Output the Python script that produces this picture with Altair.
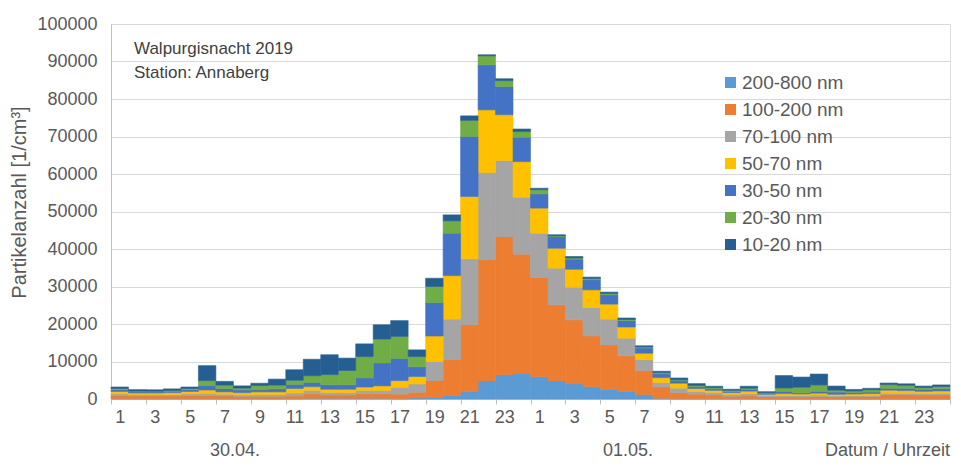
import altair as alt
import pandas as pd

dates = ["30.04.", "01.05."]
hours = list(range(1, 25))
classes = ["200-800 nm", "100-200 nm", "70-100 nm", "50-70 nm", "30-50 nm", "20-30 nm", "10-20 nm"]
colors = ["#5B9BD5", "#ED7D31", "#A5A5A5", "#FFC000", "#4472C4", "#70AD47", "#255E91"]

# particle counts [1/cm3], 48 hourly values (30.04. 1..24, 01.05. 1..24)
nm_200_800 = [100, 100, 100, 100, 100, 100, 100, 100, 100, 100, 100, 200, 200, 200, 200, 200,
              100, 300, 400, 1000, 2000, 4900, 6500, 6900, 6000, 4900, 4100, 3300, 2600, 2000, 1200, 200,
              100, 100, 100, 100, 100, 50, 50, 50, 50, 50, 50, 50, 50, 50, 50, 50]
nm_100_200 = [800, 700, 700, 700, 800, 800, 700, 600, 600, 600, 700, 1200, 900, 900, 1200, 1200,
              1200, 1500, 4500, 9500, 17800, 32200, 36800, 31700, 26400, 20200, 17000, 13500, 11800, 9500, 6400, 3000,
              1500, 1200, 1000, 600, 700, 500, 500, 500, 600, 500, 600, 600, 1100, 1100, 1000, 1000]
nm_70_100 = [500, 400, 400, 400, 500, 600, 500, 400, 500, 500, 800, 900, 600, 600, 900, 900,
             1800, 2200, 5100, 10800, 17600, 23300, 20300, 15200, 11800, 9800, 8700, 7600, 6900, 4700, 2900, 1200,
             1300, 700, 600, 500, 600, 400, 400, 400, 400, 300, 300, 300, 400, 400, 400, 400]
nm_50_70 = [600, 400, 400, 500, 600, 900, 600, 600, 700, 700, 1200, 1000, 900, 900, 900, 1200,
            1800, 2000, 6800, 11600, 16600, 16700, 12200, 9500, 6700, 5300, 4800, 4700, 4000, 3000, 1700, 1300,
            1300, 800, 600, 500, 700, 300, 500, 400, 500, 400, 400, 500, 800, 700, 600, 700]
nm_30_50 = [500, 300, 300, 400, 500, 1200, 900, 700, 600, 800, 1100, 1100, 1200, 1200, 2400, 6100,
            5900, 2600, 8900, 11300, 16000, 12000, 7500, 6500, 3800, 3100, 2700, 2700, 2500, 1700, 1400, 1000,
            700, 500, 400, 300, 500, 200, 600, 300, 500, 600, 400, 400, 500, 600, 500, 600]
nm_20_30 = [300, 200, 200, 200, 300, 1300, 900, 500, 1100, 1000, 1100, 1800, 2700, 3800, 5700, 6400,
            5900, 2700, 4300, 3300, 4300, 2400, 1600, 1500, 1100, 200, 300, 300, 300, 300, 300, 300,
            200, 300, 300, 300, 300, 200, 900, 1500, 1700, 500, 400, 600, 1000, 800, 500, 600]
nm_10_20 = [400, 400, 350, 400, 400, 4000, 1000, 600, 600, 1600, 2800, 4400, 5300, 3300, 3400, 3800,
            4200, 1800, 2200, 1600, 1200, 300, 500, 700, 400, 300, 400, 400, 400, 400, 300, 400,
            500, 500, 400, 300, 500, 300, 3300, 2700, 2900, 1100, 400, 400, 400, 400, 400, 400]

series = [nm_200_800, nm_100_200, nm_70_100, nm_50_70, nm_30_50, nm_20_30, nm_10_20]

rows = []
for s in range(len(dates) * len(hours)):
    base = 0
    for k, (cls, vals) in enumerate(zip(classes, series)):
        v = vals[s]
        rows.append({"slot": s, "slot_end": s + 1, "date": dates[s // 24], "hour": hours[s % 24],
                     "cls": cls, "k": k, "value": v, "y0": base, "y1": base + v})
        base += v
df = pd.DataFrame(rows)

FONT = "Liberation Sans"
NARROW = "Liberation Sans Narrow, Arial Narrow, Liberation Sans"
GREY = "#595959"

xvals = []
for s in range(0, 48, 2):
    xvals += [s, s + 0.5]
xvals.append(48)

color_scale = alt.Scale(domain=classes, range=colors)

bars = alt.Chart(df).mark_bar(strokeWidth=0.6).encode(
    x=alt.X("slot:Q", scale=alt.Scale(domain=[0, 48], nice=False, zero=False),
            axis=alt.Axis(values=xvals, title=None, grid=False,
                          labelExpr="datum.value % 1 == 0.5 ? '' + (floor(datum.value) % 24 + 1) : ''",
                          tickOpacity={"condition": {"test": "datum.value % 1 == 0", "value": 1}, "value": 0},
                          tickSize=5, tickColor="#BFBFBF", domainColor="#BFBFBF",
                          labelOverlap=False, labelFlush=False, labelPadding=4,
                          labelFont=NARROW, labelFontSize=18, labelColor=GREY)),
    x2="slot_end:Q",
    y=alt.Y("y0:Q", scale=alt.Scale(domain=[0, 100000], nice=False),
            axis=alt.Axis(values=list(range(0, 100001, 10000)), format="d", ticks=False,
                          labelPadding=14, labelFont=FONT, labelFontSize=18, labelColor=GREY,
                          gridColor="#D9D9D9", domainColor="#BFBFBF",
                          title="Partikelanzahl [1/cm³]", titleFont=FONT, titleFontSize=20,
                          titleFontWeight="normal", titleColor=GREY, titleX=-92, titleY=178,
                          titleAngle=270, titleAlign="center", titleBaseline="middle")),
    y2="y1:Q",
    color=alt.Color("cls:N", scale=color_scale, sort=classes,
                    legend=alt.Legend(title=None, orient="none", legendX=610, legendY=49,
                                      symbolType="square", symbolSize=121, symbolStrokeWidth=0,
                                      labelFont=FONT, labelFontSize=19, labelColor=GREY,
                                      labelOffset=2, rowPadding=7)),
    stroke=alt.Stroke("cls:N", scale=color_scale, legend=None),
    order=alt.Order("k:Q", sort="ascending"),
)

def label(txt, x, y, align="left", font=FONT, size=17, color="#404040"):
    return alt.Chart(pd.DataFrame({"t": [txt]})).mark_text(
        align=align, baseline="middle", font=font, fontSize=size, color=color
    ).encode(text="t:N", x=alt.value(x), y=alt.value(y))

t1 = label("Walpurgisnacht 2019", 23, 25)
t2 = label("Station: Annaberg", 23, 49)
d1 = label(dates[0], 124, 427, align="center", font=NARROW, size=18, color=GREY)
d2 = label(dates[1], 517, 427, align="center", font=NARROW, size=18, color=GREY)
d3 = label("Datum / Uhrzeit", 839, 427, align="right", font=NARROW, size=18, color=GREY)

chart = alt.layer(bars, t1, t2, d1, d2, d3).properties(
    width=839, height=375,
    autosize=alt.AutoSizeParams(type="none"),
    padding={"left": 103, "top": 16, "right": 3, "bottom": 70},
).configure_view(stroke="#D9D9D9").configure(background="white")

chart.save("out.html", embed_options={"renderer": "svg", "actions": False})
